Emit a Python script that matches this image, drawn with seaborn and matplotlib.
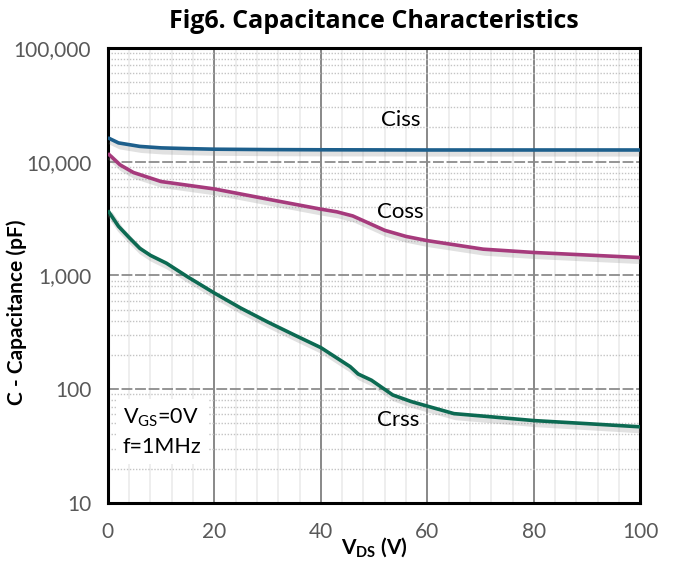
import matplotlib
matplotlib.use("Agg")
import matplotlib.pyplot as plt
import matplotlib.patheffects as pe
from matplotlib.ticker import FixedLocator, FuncFormatter, LogLocator, NullFormatter
import seaborn as sns
import pandas as pd

# ---- data ----
ciss_v = [0, 2, 6, 10, 15, 20, 30, 40, 60, 80, 100]
ciss_c = [16200, 14600, 13600, 13200, 13000, 12850, 12750, 12700, 12650, 12650, 12650]

coss_v = [0, 2.3, 4.8, 10, 20, 30, 40, 43, 46, 49, 52, 56, 60, 70.5, 80, 90, 100]
coss_c = [11800, 9360, 8020, 6680, 5750, 4680, 3820, 3620, 3330, 2880, 2490, 2200, 2020, 1700, 1590, 1510, 1435]

crss_v = [0, 2, 4, 6, 8, 11, 15, 20, 25, 30, 35, 40, 45.5, 47, 49.5, 53.5, 57, 60, 65, 70.5, 80, 90, 100]
crss_c = [3720, 2700, 2150, 1730, 1500, 1280, 970, 700, 515, 390, 300, 232, 158, 136, 120, 89, 77.8, 71, 61, 58, 53, 49.8, 46.7]

series_names = ["Ciss", "Coss", "Crss"]
series_colors = ["#1d5f8c", "#a63a7c", "#0c6a52"]
label_pos = [(55, 23300), (55, 3610), (54.5, 53.7)]

x_ticks = [0, 20, 40, 60, 80, 100]
y_ticks = [10, 100, 1000, 10000, 100000]

title = "Fig6. Capacitance Characteristics"
ylabel = "C - Capacitance (pF)"
xlabel = r"V$_{\mathregular{DS}}$ (V)"
note = "V$_{\\mathregular{GS}}$=0V\nf=1MHz"

frames = []
for name, v, c in [("Ciss", ciss_v, ciss_c), ("Coss", coss_v, coss_c), ("Crss", crss_v, crss_c)]:
    frames.append(pd.DataFrame({"V": v, "C": c, "series": name}))
df = pd.concat(frames, ignore_index=True)

sns.set_theme(style="white")
plt.rcParams["font.family"] = ["Lato", "DejaVu Sans"]
plt.rcParams["mathtext.fontset"] = "custom"
plt.rcParams["mathtext.rm"] = "Lato"
plt.rcParams["mathtext.bf"] = "Lato:bold"

fig = plt.figure(figsize=(6.74, 5.69), dpi=100)
ax = fig.add_axes([0.160, 0.116, 0.790, 0.800])

ax.set_yscale("log")
ax.set_xlim(0, 100)
ax.set_ylim(10, 100000)

# grid
ax.xaxis.set_major_locator(FixedLocator(x_ticks))
ax.xaxis.set_minor_locator(FixedLocator([i for i in range(4, 100, 4) if i % 20 != 0]))
ax.yaxis.set_major_locator(FixedLocator(y_ticks))
ax.yaxis.set_minor_locator(LogLocator(base=10, subs=[2, 3, 4, 5, 6, 7, 8, 9]))
ax.yaxis.set_minor_formatter(NullFormatter())
ax.grid(which="minor", axis="x", color="#ededed", lw=1.3, ls="-", zorder=0)
ax.grid(which="minor", axis="y", color="#c4c4c4", lw=1.0, ls=(0, (1, 1.2)), zorder=0)
ax.grid(which="major", axis="x", color="#7f7f7f", lw=1.3, ls="-", zorder=1)
ax.grid(which="major", axis="y", color="#8c8c8c", lw=1.3, ls=(0, (6, 1.5)), zorder=1)
ax.set_axisbelow(True)

sns.lineplot(data=df, x="V", y="C", hue="series", hue_order=series_names,
             palette=series_colors, linewidth=2.6, legend=False, ax=ax,
             estimator=None, sort=False, zorder=3)
for line in ax.get_lines():
    line.set_path_effects([pe.SimpleLineShadow(offset=(1.5, -2.5), shadow_color="#888888",
                                               alpha=0.25, linewidth=4.5),
                           pe.Normal()])
    line.set_solid_capstyle("butt")
    line.set_solid_joinstyle("round")

for name, (lx, ly) in zip(series_names, label_pos):
    ax.text(lx, ly, name, ha="center", va="center", fontsize=16, color="black",
            family=["Lato", "DejaVu Sans"], zorder=4)

ax.text(2.8, 70, note, ha="left", va="top", fontsize=15.5, color="black",
        linespacing=1.5, zorder=4,
        bbox=dict(boxstyle="square,pad=0.3", facecolor="white", edgecolor="none"))

ax.yaxis.set_major_formatter(FuncFormatter(lambda v, p: f"{int(round(v)):,}"))
ax.tick_params(axis="both", which="both", length=0, labelsize=15, labelcolor="#595959")
ax.tick_params(axis="x", pad=14)
ax.tick_params(axis="y", pad=12)

for s in ax.spines.values():
    s.set_visible(True)
    s.set_color("black")
    s.set_linewidth(2.2)

ax.set_xlabel(xlabel, fontsize=15, fontweight="bold", color="black", labelpad=-5)
ax.set_ylabel(ylabel, fontsize=15, fontweight="bold", color="black")
ax.yaxis.set_label_coords(-0.152, 0.42)
fig.text(0.555, 0.963, title, ha="center", va="center", fontsize=18, fontweight="bold",
         family=["Open Sans", "DejaVu Sans"], color="black")

fig.savefig("out.png", dpi=100, facecolor="white")
